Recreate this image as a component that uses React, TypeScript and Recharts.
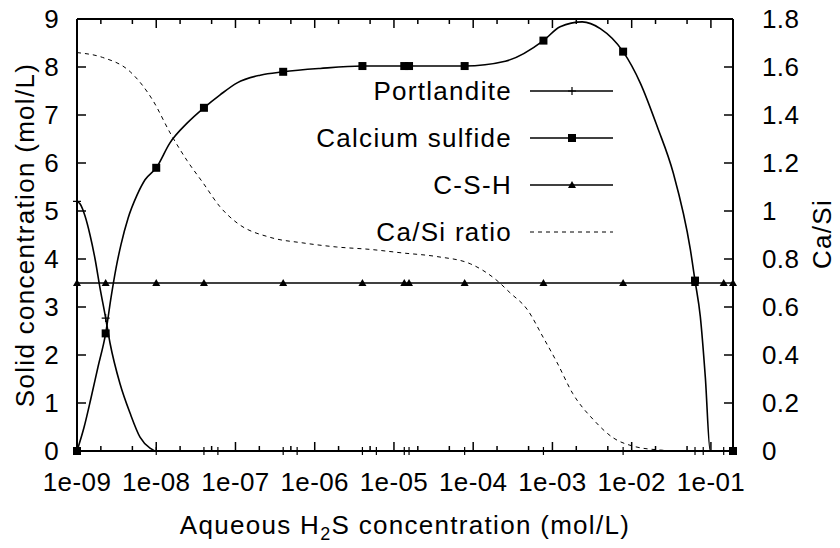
import { LineChart, Line, XAxis, YAxis } from "recharts"

// no serif face is installed, so use the sans face with spacing tuned to the reference widths
const FONT = "'Liberation Sans', Arial, sans-serif"

// axis ticks
const decadeTicks = [1e-9, 1e-8, 1e-7, 1e-6, 1e-5, 1e-4, 1e-3, 1e-2, 1e-1]
const minorTicks = [2e-9, 5e-9, 2e-8, 5e-8, 2e-7, 5e-7, 2e-6, 5e-6, 2e-5, 5e-5, 2e-4, 5e-4, 2e-3, 5e-3, 2e-2, 5e-2]
const solidTicks = [0, 1, 2, 3, 4, 5, 6, 7, 8, 9]
const ratioTicks = [0, 0.2, 0.4, 0.6, 0.8, 1, 1.2, 1.4, 1.6, 1.8]

// Portlandite (mol/L): smooth curve, then the plotted points
const portlanditeCurveX = [1e-9, 1.09e-9, 1.26e-9, 1.46e-9, 1.69e-9, 1.95e-9, 2.3e-9, 2.61e-9, 3.49e-9, 4.67e-9, 6.24e-9, 8.35e-9, 1e-8, 0.19]
const portlanditeCurveY = [5.2, 5.15, 4.9, 4.5, 4.0, 3.4, 2.77, 2.25, 1.4, 0.79, 0.29, 0.06, 0, 0]
const portlanditeX = [1e-9, 2.3e-9, 1e-8, 4e-8, 6e-8, 4e-7, 6e-7, 4e-6, 6e-6, 1.35e-5, 1.55e-5, 7.8e-5, 7.7e-4, 7.8e-3, 6.3e-2, 8e-2, 0.145, 0.19]
const portlanditeY = [5.2, 2.77, 0, 0, 0, 0, 0, 0, 0, 0, 0, 0, 0, 0, 0, 0, 0, 0]

// Calcium sulfide (mol/L): smooth curve, then the plotted points
const sulfideCurveX = [1e-9, 1.23e-9, 1.5e-9, 1.84e-9, 2.3e-9, 2.69e-9, 3.1e-9, 3.59e-9, 4.41e-9, 5.72e-9, 7.22e-9, 1e-8, 1.49e-8, 2.45e-8, 4e-8, 6.4e-8, 1.05e-7, 2.05e-7, 4e-7, 1.17e-6, 4e-6, 1.45e-5, 7.8e-5, 2.54e-4, 7.7e-4, 1.25e-3, 2.38e-3, 4.02e-3, 7.8e-3, 1.29e-2, 2.1e-2, 3.35e-2, 5.5e-2, 6.3e-2, 7.35e-2, 8.5e-2, 9.8e-2, 0.19]
const sulfideCurveY = [0, 0.5, 1.1, 1.75, 2.45, 3.2, 3.8, 4.3, 4.85, 5.33, 5.65, 5.9, 6.42, 6.83, 7.15, 7.42, 7.67, 7.83, 7.9, 7.97, 8.02, 8.02, 8.02, 8.12, 8.55, 8.84, 8.94, 8.8, 8.32, 7.66, 6.76, 5.79, 4.2, 3.55, 2.8, 1.54, 0, 0]
const sulfideX = [1e-9, 2.3e-9, 1e-8, 4e-8, 4e-7, 4e-6, 1.35e-5, 1.55e-5, 7.8e-5, 7.7e-4, 7.8e-3, 6.3e-2, 0.19]
const sulfideY = [0, 2.45, 5.9, 7.15, 7.9, 8.02, 8.02, 8.02, 8.02, 8.55, 8.32, 3.55, 0]

// C-S-H (mol/L)
const cshX = [1e-9, 2.3e-9, 1e-8, 4e-8, 4e-7, 4e-6, 1.35e-5, 1.55e-5, 7.8e-5, 7.7e-4, 7.8e-3, 6.3e-2, 0.145, 0.19]
const cshY = [3.5, 3.5, 3.5, 3.5, 3.5, 3.5, 3.5, 3.5, 3.5, 3.5, 3.5, 3.5, 3.5, 3.5]

// Ca/Si ratio (right axis)
const ratioX = [1e-9, 2.1e-9, 4.7e-9, 9.1e-9, 1.5e-8, 2.45e-8, 3.9e-8, 6.4e-8, 1.05e-7, 2.75e-7, 7.1e-7, 1.9e-6, 5e-6, 1.3e-5, 3.5e-5, 9.2e-5, 2e-4, 2.9e-4, 4.8e-4, 7.6e-4, 1.15e-3, 1.8e-3, 3.3e-3, 5.9e-3, 1.05e-2, 2.3e-2, 3.8e-2, 0.19]
const ratioY = [1.66, 1.64, 1.58, 1.46, 1.325, 1.21, 1.117, 1.017, 0.95, 0.89, 0.867, 0.85, 0.84, 0.825, 0.81, 0.78, 0.71, 0.66, 0.59, 0.475, 0.367, 0.24, 0.13, 0.054, 0.02, 0.004, 0, 0]

const zip = (xs: number[], ys: number[]) => xs.map((x, i) => ({ x, y: ys[i] }))

const portlanditeCurve = zip(portlanditeCurveX, portlanditeCurveY)
const portlanditePoints = zip(portlanditeX, portlanditeY)
const sulfideCurve = zip(sulfideCurveX, sulfideCurveY)
const sulfidePoints = zip(sulfideX, sulfideY)
const cshData = zip(cshX, cshY)
const ratioData = zip(ratioX, ratioY)

const allXTicks = [...decadeTicks, ...minorTicks].sort((a, b) => a - b)

const isDecade = (v: number) => Math.abs(Math.log10(v) - Math.round(Math.log10(v))) < 1e-6
const fmtDecade = (v: number) => {
    const e = -Math.round(Math.log10(v))
    return `1e-${e < 10 ? "0" + e : e}`
}

const tickStyle = { fontFamily: FONT, fontSize: 26, letterSpacing: "0.4px" }

const BOTTOM_MARGIN = 22

function BottomTick(props: any) {
    const { x, y, payload } = props
    const axisY = y - BOTTOM_MARGIN
    const major = isDecade(payload.value)
    return (
        <g>
            <line x1={x} x2={x} y1={axisY} y2={axisY - (major ? 9 : 5)} stroke="#000" strokeWidth={1.5} />
            {major && (
                <text x={x} y={y} dy="0.71em" textAnchor="middle" fill="#000" style={tickStyle}>
                    {fmtDecade(payload.value)}
                </text>
            )}
        </g>
    )
}

function TopTick(props: any) {
    const { x, y, payload } = props
    const major = isDecade(payload.value)
    return <line x1={x} x2={x} y1={y} y2={y + (major ? 9 : 5)} stroke="#000" strokeWidth={1.5} />
}

function LeftTick(props: any) {
    const { x, y, payload } = props
    return (
        <text x={x} y={y} dy="0.355em" textAnchor="end" fill="#000" style={tickStyle}>
            {String(payload.value)}
        </text>
    )
}

function RightTick(props: any) {
    const { x, y, payload } = props
    return (
        <text x={x} y={y} dy="0.355em" textAnchor="start" fill="#000" style={tickStyle}>
            {String(payload.value)}
        </text>
    )
}

const plusDot = (p: any) =>
    p.cx == null ? null : (
        <path key={`pl-${p.index}`} d={`M${p.cx - 4},${p.cy}H${p.cx + 4}M${p.cx},${p.cy - 4}V${p.cy + 4}`} stroke="#000" strokeWidth={1.2} fill="none" />
    )

const squareDot = (p: any) =>
    p.cx == null ? null : <rect key={`sq-${p.index}`} x={p.cx - 4} y={p.cy - 4} width={8} height={8} fill="#000" />

const triangleDot = (p: any) =>
    p.cx == null ? null : (
        <path key={`tr-${p.index}`} d={`M${p.cx},${p.cy - 4}L${p.cx + 4},${p.cy + 3}L${p.cx - 4},${p.cy + 3}Z`} fill="#000" />
    )

const legendRows = [
    { name: "Portlandite", marker: "plus" },
    { name: "Calcium sulfide", marker: "square" },
    { name: "C-S-H", marker: "triangle" },
    { name: "Ca/Si ratio", marker: "dash" },
]

function LegendMarker({ kind, x, y }: { kind: string; x: number; y: number }) {
    if (kind === "plus") return <path d={`M${x - 4},${y}H${x + 4}M${x},${y - 4}V${y + 4}`} stroke="#000" strokeWidth={1.2} />
    if (kind === "square") return <rect x={x - 4} y={y - 4} width={8} height={8} fill="#000" />
    if (kind === "triangle") return <path d={`M${x},${y - 4}L${x + 4},${y + 3}L${x - 4},${y + 3}Z`} fill="#000" />
    return null
}

export default function App() {
    return (
        <div style={{ position: "absolute", left: 0, top: 0, width: 840, height: 548, background: "#fff" }}>
            <LineChart width={840} height={548} margin={{ top: 18, right: 0, bottom: 0, left: 0 }}>
                <XAxis
                    xAxisId="top"
                    orientation="top"
                    dataKey="x"
                    type="number"
                    scale="log"
                    domain={[1e-9, 0.19]}
                    allowDataOverflow
                    ticks={allXTicks}
                    interval={0}
                    height={1}
                    tickSize={0}
                    tickMargin={0}
                    tickLine={false}
                    tick={<TopTick />}
                    axisLine={{ stroke: "#000", strokeWidth: 2 }}
                />
                <XAxis
                    dataKey="x"
                    type="number"
                    scale="log"
                    domain={[1e-9, 0.19]}
                    ticks={allXTicks}
                    interval={0}
                    height={97}
                    tickSize={0}
                    tickMargin={BOTTOM_MARGIN}
                    tickLine={false}
                    tick={<BottomTick />}
                    axisLine={{ stroke: "#000", strokeWidth: 2 }}
                />
                <YAxis
                    yAxisId="left"
                    type="number"
                    domain={[0, 9]}
                    ticks={solidTicks}
                    interval={0}
                    width={77}
                    tickSize={-9}
                    tickMargin={27}
                    stroke="#000"
                    tickLine={{ stroke: "#000", strokeWidth: 1.5 }}
                    axisLine={{ stroke: "#000", strokeWidth: 2 }}
                    tick={<LeftTick />}
                />
                <YAxis
                    yAxisId="right"
                    orientation="right"
                    type="number"
                    domain={[0, 1.8]}
                    ticks={ratioTicks}
                    interval={0}
                    width={107}
                    tickSize={-9}
                    tickMargin={38}
                    stroke="#000"
                    tickLine={{ stroke: "#000", strokeWidth: 1.5 }}
                    axisLine={{ stroke: "#000", strokeWidth: 2 }}
                    tick={<RightTick />}
                />

                <Line yAxisId="left" data={portlanditeCurve} dataKey="y" type="monotone" stroke="#000" strokeWidth={1.6} dot={false} activeDot={false} isAnimationActive={false} />
                <Line yAxisId="left" data={portlanditePoints} dataKey="y" stroke="none" dot={plusDot} activeDot={false} isAnimationActive={false} />
                <Line yAxisId="left" data={sulfideCurve} dataKey="y" type="monotone" stroke="#000" strokeWidth={1.6} dot={false} activeDot={false} isAnimationActive={false} />
                <Line yAxisId="left" data={sulfidePoints} dataKey="y" stroke="none" dot={squareDot} activeDot={false} isAnimationActive={false} />
                <Line yAxisId="left" data={cshData} dataKey="y" type="linear" stroke="#000" strokeWidth={1.6} dot={triangleDot} activeDot={false} isAnimationActive={false} />
                <Line
                    yAxisId="right"
                    data={ratioData}
                    dataKey="y"
                    type="monotone"
                    stroke="#000"
                    strokeWidth={1}
                    strokeDasharray="4 4"
                    dot={false}
                    activeDot={false}
                    isAnimationActive={false}
                />
            </LineChart>

            <svg
                width={840}
                height={548}
                style={{ position: "absolute", left: 0, top: 0, pointerEvents: "none", fontFamily: FONT, fontSize: 26, letterSpacing: "1.3px" }}
            >
                <text x={34} y={235} transform="rotate(-90 34 235)" textAnchor="middle">
                    Solid concentration (mol/L)
                </text>
                <text x={831} y={234} transform="rotate(-90 831 234)" textAnchor="middle">
                    Ca/Si
                </text>
                <text x={405} y={534} textAnchor="middle">
                    Aqueous H<tspan fontSize={18} dy={6}>2</tspan>
                    <tspan dy={-6}>S concentration (mol/L)</tspan>
                </text>

                {legendRows.map((row, i) => {
                    const y = 91 + i * 47
                    return (
                        <g key={row.name}>
                            <text x={512} y={y + 9} textAnchor="end">
                                {row.name}
                            </text>
                            <line
                                x1={530}
                                x2={613}
                                y1={y}
                                y2={y}
                                stroke="#000"
                                strokeWidth={row.marker === "dash" ? 1 : 1.6}
                                strokeDasharray={row.marker === "dash" ? "4 4" : undefined}
                            />
                            <LegendMarker kind={row.marker} x={572} y={y} />
                        </g>
                    )
                })}
            </svg>
        </div>
    )
}
